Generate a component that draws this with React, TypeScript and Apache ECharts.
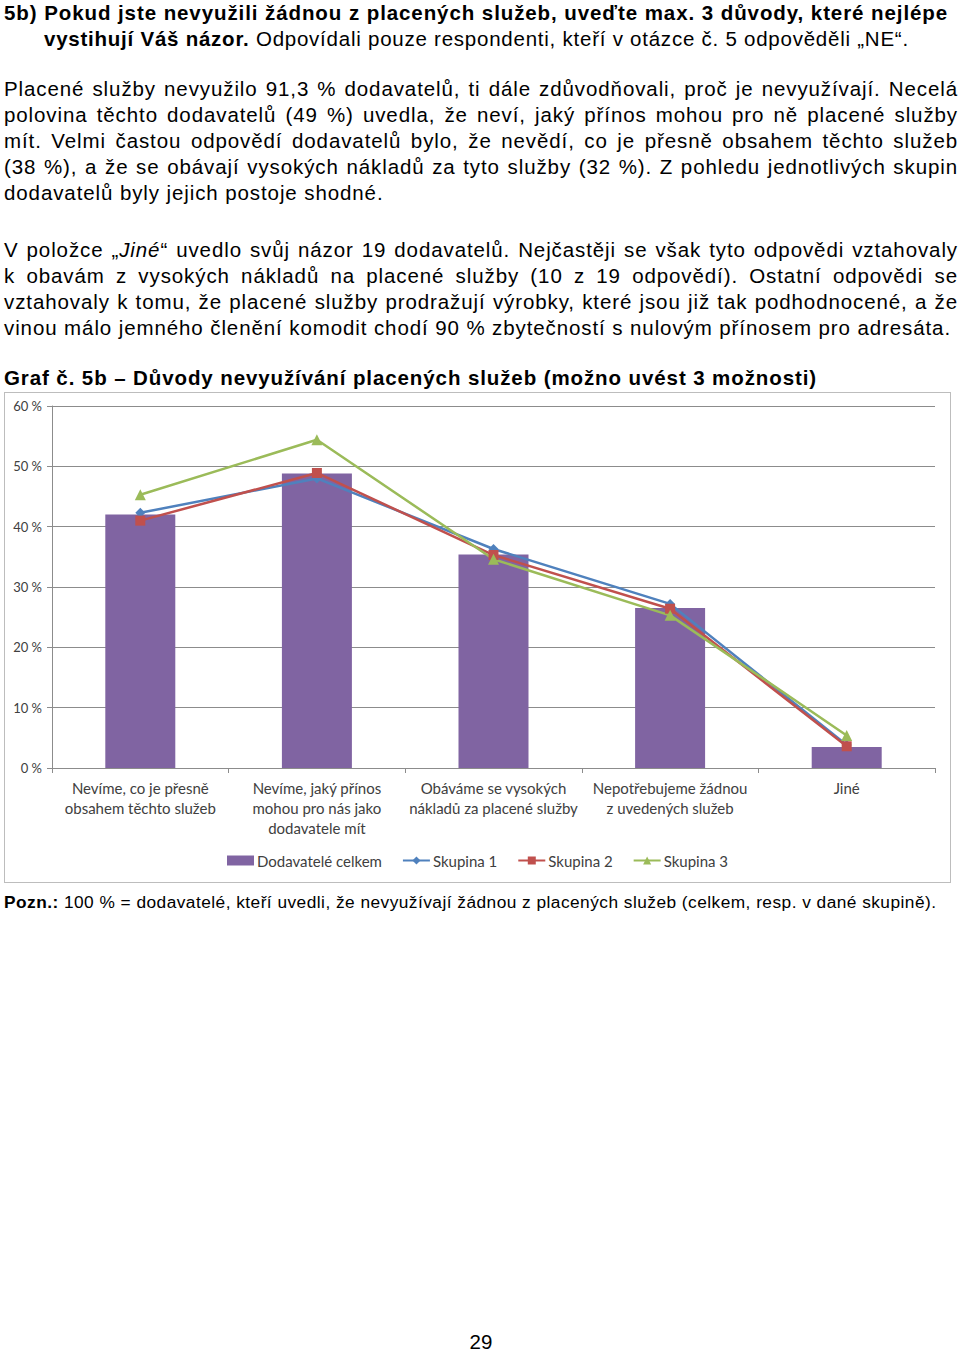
import React, { useEffect, useRef } from "react";
import * as echarts from "echarts";

const categories = [
  "Nevíme, co je přesně\nobsahem těchto služeb",
  "Nevíme, jaký přínos\nmohou pro nás jako\ndodavatele mít",
  "Obáváme se vysokých\nnákladů za placené služby",
  "Nepotřebujeme žádnou\nz uvedených služeb",
  "Jiné",
];
const seriesNames = ["Dodavatelé celkem", "Skupina 1", "Skupina 2", "Skupina 3"];
const totalValues = [42.0, 48.8, 35.4, 26.5, 3.5];
const group1Values = [42.3, 48.0, 36.3, 27.2, 3.8];
const group2Values = [41.0, 48.9, 35.3, 26.4, 3.6];
const group3Values = [45.3, 54.4, 34.6, 25.3, 5.4];
const yTickStep = 10;
const yMax = 60;

const colors = { bar: "#8064A2", g1: "#4F81BD", g2: "#C0504D", g3: "#9BBB59" };
const labelFont = "Lato, 'Open Sans', sans-serif";
const textFont = "'Liberation Sans', Arial, sans-serif";

function Chart() {
  const ref = useRef<HTMLDivElement>(null);
  useEffect(() => {
    const chart = echarts.init(ref.current!, undefined, { renderer: "svg" });
    const lineSeries = (name: string, data: number[], color: string, symbol: string, size: number) => ({
      name,
      type: "line",
      data,
      symbol,
      symbolSize: size,
      lineStyle: { color, width: 2.5 },
      itemStyle: { color },
      z: 3,
    });
    chart.setOption({
      animation: false,
      grid: { left: 47, right: 15, top: 13, bottom: 114, containLabel: false },
      legend: {
        top: 455,
        left: "center",
        itemWidth: 27,
        itemHeight: 10,
        itemGap: 20,
        textStyle: { fontFamily: labelFont, fontSize: 15, color: "#404040", padding: [0, 0, 0, -2] },
        data: [
          { name: seriesNames[0], icon: "rect" },
          { name: seriesNames[1] },
          { name: seriesNames[2] },
          { name: seriesNames[3] },
        ],
      },
      xAxis: {
        type: "category",
        data: categories,
        boundaryGap: true,
        axisLine: { lineStyle: { color: "#8c8c8c", width: 1 } },
        axisTick: { show: true, interval: 0, length: 5, lineStyle: { color: "#8c8c8c" } },
        axisLabel: {
          interval: 0,
          margin: 10,
          fontFamily: labelFont,
          fontSize: 15,
          lineHeight: 20,
          color: "#404040",
        },
      },
      yAxis: {
        type: "value",
        min: 0,
        max: yMax,
        interval: yTickStep,
        axisLine: { show: true, lineStyle: { color: "#8c8c8c", width: 1 } },
        axisTick: { show: true, length: 5, lineStyle: { color: "#8c8c8c" } },
        splitLine: { lineStyle: { color: "#8c8c8c", width: 1 } },
        axisLabel: {
          formatter: "{value} %",
          margin: 10,
          fontFamily: labelFont,
          fontSize: 13,
          color: "#404040",
        },
      },
      series: [
        {
          name: seriesNames[0],
          type: "bar",
          data: totalValues,
          barWidth: 70,
          itemStyle: { color: colors.bar },
          z: 2,
        },
        lineSeries(seriesNames[1], group1Values, colors.g1, "diamond", 10),
        lineSeries(seriesNames[2], group2Values, colors.g2, "rect", 10),
        lineSeries(seriesNames[3], group3Values, colors.g3, "triangle", 11),
      ],
    });
    return () => chart.dispose();
  }, []);
  return (
    <div
      style={{
        position: "absolute",
        left: 4,
        top: 392,
        width: 947,
        height: 491,
        boxSizing: "border-box",
        border: "1px solid #bdbdbd",
        background: "#fff",
      }}
    >
      <div ref={ref} style={{ width: 945, height: 489 }} />
    </div>
  );
}

function Line({
  top,
  left = 4,
  width = 954,
  justify = false,
  size = 20.5,
  spacing = 0.9,
  children,
}: {
  top: number;
  left?: number;
  width?: number;
  justify?: boolean;
  size?: number;
  spacing?: number;
  children: React.ReactNode;
}) {
  return (
    <div
      style={{
        position: "absolute",
        top,
        left,
        width,
        fontSize: size,
        letterSpacing: spacing,
        lineHeight: "26px",
        fontFamily: textFont,
        color: "#000",
        textAlign: justify ? "justify" : "left",
        textAlignLast: justify ? "justify" : "left",
        whiteSpace: "nowrap",
      }}
    >
      {children}
    </div>
  );
}

export default function App() {
  return (
    <div style={{ position: "absolute", left: 0, top: 0, width: 960, height: 1354, background: "#fff" }}>
      <Line top={0} width={944} justify>
        <b>5b) Pokud jste nevyužili žádnou z placených služeb, uveďte max. 3 důvody, které nejlépe</b>
      </Line>
      <Line top={26} left={44} spacing={0.76}>
        <b>vystihují Váš názor.</b> Odpovídali pouze respondenti, kteří v otázce č. 5 odpověděli „NE“.
      </Line>

      <Line top={76} justify>
        Placené služby nevyužilo 91,3 % dodavatelů, ti dále zdůvodňovali, proč je nevyužívají. Necelá
      </Line>
      <Line top={102} justify>
        polovina těchto dodavatelů (49 %) uvedla, že neví, jaký přínos mohou pro ně placené služby
      </Line>
      <Line top={128} justify>
        mít. Velmi častou odpovědí dodavatelů bylo, že nevědí, co je přesně obsahem těchto služeb
      </Line>
      <Line top={154} justify>
        (38 %), a že se obávají vysokých nákladů za tyto služby (32 %). Z pohledu jednotlivých skupin
      </Line>
      <Line top={180}>dodavatelů byly jejich postoje shodné.</Line>

      <Line top={237} justify>
        V položce „<i>Jiné</i>“ uvedlo svůj názor 19 dodavatelů. Nejčastěji se však tyto odpovědi vztahovaly
      </Line>
      <Line top={263} justify>
        k obavám z vysokých nákladů na placené služby (10 z 19 odpovědí). Ostatní odpovědi se
      </Line>
      <Line top={289} justify>
        vztahovaly k tomu, že placené služby prodražují výrobky, které jsou již tak podhodnocené, a že
      </Line>
      <Line top={315}>
        vinou málo jemného členění komodit chodí 90 % zbytečností s nulovým přínosem pro adresáta.
      </Line>

      <Line top={365}>
        <b>Graf č. 5b – Důvody nevyužívání placených služeb (možno uvést 3 možnosti)</b>
      </Line>

      <Chart />

      <Line top={889} size={17.3} spacing={0.47}>
        <b>Pozn.:</b> 100 % = dodavatelé, kteří uvedli, že nevyužívají žádnou z placených služeb (celkem, resp. v dané skupině).
      </Line>

      <div
        style={{
          position: "absolute",
          top: 1329,
          left: 0,
          width: 962,
          textAlign: "center",
          fontFamily: textFont,
          fontSize: 20.5,
          lineHeight: "26px",
          color: "#000",
        }}
      >
        29
      </div>
    </div>
  );
}
